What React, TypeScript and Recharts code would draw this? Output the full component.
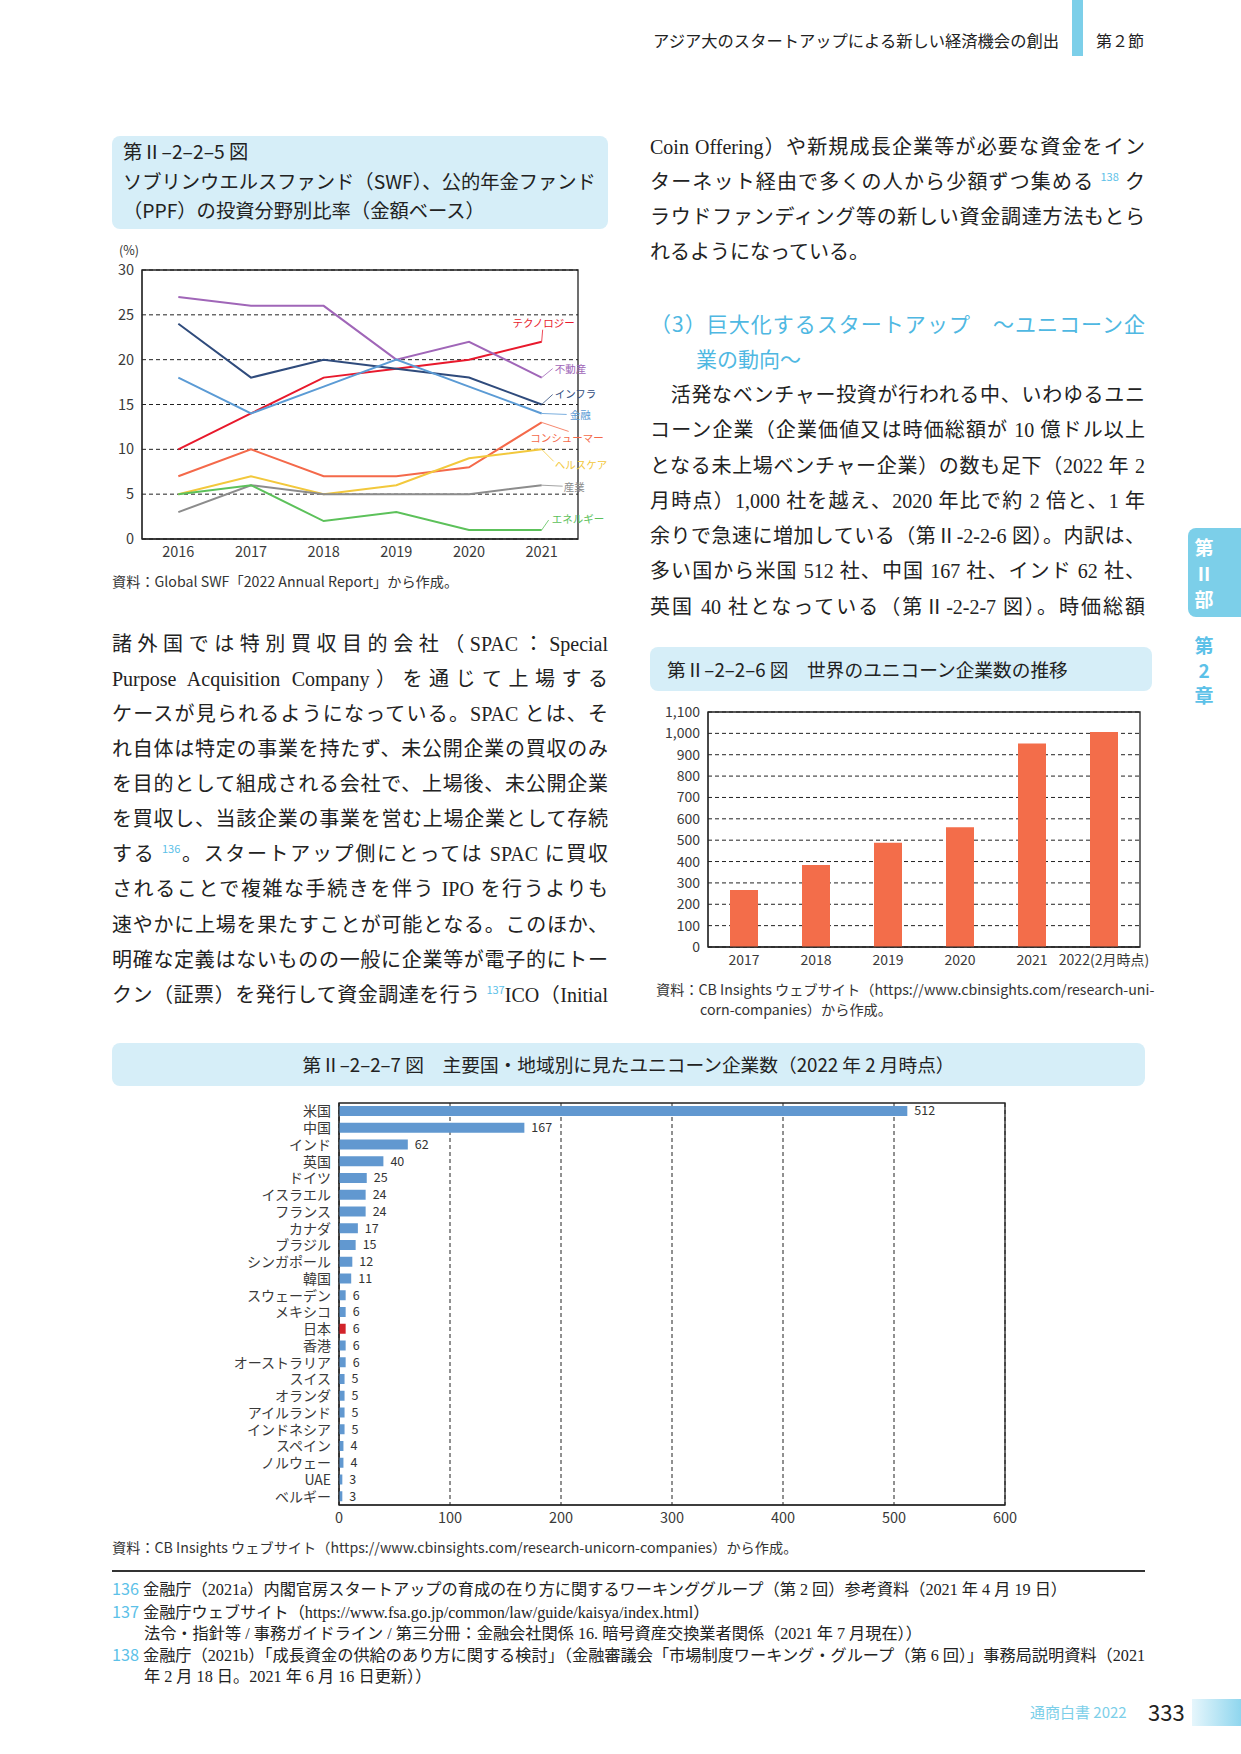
import React from "react";
import {
  LineChart,
  Line,
  BarChart,
  Bar,
  XAxis,
  YAxis,
  CartesianGrid,
  ReferenceArea,
  LabelList,
  Cell,
} from "recharts";

// --- Fig 2-2-5: SWF / PPF investment share by sector (%)
const swfYears = ["2016", "2017", "2018", "2019", "2020", "2021"];
const technology = [10, 14, 18, 19, 20, 22];
const realEstate = [27, 26, 26, 20, 22, 18];
const infra = [24, 18, 20, 19, 18, 15];
const finance = [18, 14, 17, 20, 17, 14];
const consumer = [7, 10, 7, 7, 8, 13];
const healthcare = [5, 7, 5, 6, 9, 10];
const industry = [3, 6, 5, 5, 5, 6];
const energy = [5, 6, 2, 3, 1, 1];
const swfTicks = [0, 5, 10, 15, 20, 25, 30];

// --- Fig 2-2-6: number of unicorns worldwide
const unicornYears = ["2017", "2018", "2019", "2020", "2021", "2022(2月時点)"];
const unicornCount = [267, 384, 488, 560, 953, 1006];
const unicornTicks = [0, 100, 200, 300, 400, 500, 600, 700, 800, 900, 1000, 1100];

// --- Fig 2-2-7: unicorns by country (Feb 2022)
const countries = [
  "米国", "中国", "インド", "英国", "ドイツ", "イスラエル", "フランス", "カナダ",
  "ブラジル", "シンガポール", "韓国", "スウェーデン", "メキシコ", "日本", "香港",
  "オーストラリア", "スイス", "オランダ", "アイルランド", "インドネシア", "スペイン",
  "ノルウェー", "UAE", "ベルギー",
];
const countryCount = [512, 167, 62, 40, 25, 24, 24, 17, 15, 12, 11, 6, 6, 6, 6, 6, 5, 5, 5, 5, 4, 4, 3, 3];
const countryTicks = [0, 100, 200, 300, 400, 500, 600];

const SANS = '"Noto Sans CJK JP", "Noto Sans", sans-serif';
const SERIF = '"Liberation Serif", "Noto Sans CJK JP", serif';
const ACCENT = "#5cc1e8";
const BOX = "#d6eef8";

const series = [
  { key: "tech", name: "テクノロジー", color: "#e8192c", values: technology },
  { key: "re", name: "不動産", color: "#a066b8", values: realEstate },
  { key: "infra", name: "インフラ", color: "#2f4b7c", values: infra },
  { key: "fin", name: "金融", color: "#5b9bd5", values: finance },
  { key: "cons", name: "コンシューマー", color: "#f4694a", values: consumer },
  { key: "hc", name: "ヘルスケア", color: "#f2c83c", values: healthcare },
  { key: "ind", name: "産業", color: "#8c8c8c", values: industry },
  { key: "en", name: "エネルギー", color: "#5cc15a", values: energy },
];

// leader line end (lx, ly) and text anchor point (tx, ty), relative to last point
const labelPos: Record<string, any> = {
  tech: { lx: 1, ly: -12, tx: 2, ty: -19, anchor: "middle" },
  re: { lx: 11, ly: -9, tx: 13, ty: -9, anchor: "start" },
  infra: { lx: 11, ly: -10, tx: 13, ty: -11, anchor: "start" },
  fin: { lx: 25, ly: 1, tx: 28, ty: 1, anchor: "start" },
  cons: { lx: 27, ly: 9, tx: 62, ty: 15, anchor: "end" },
  hc: { lx: 12, ly: 12, tx: 13, ty: 15, anchor: "start" },
  ind: { lx: 21, ly: 1, tx: 22, ty: 1, anchor: "start" },
  en: { lx: 7, ly: -10, tx: 10, ty: -12, anchor: "start" },
};

const swfData = swfYears.map((year, i) => {
  const row: Record<string, any> = { year };
  series.forEach((s) => (row[s.key] = s.values[i]));
  return row;
});
const unicornData = unicornYears.map((year, i) => ({ year, count: unicornCount[i] }));
const countryData = countries.map((name, i) => ({ name, count: countryCount[i] }));

function endLabel(s: (typeof series)[number]) {
  const p = labelPos[s.key];
  return (props: any) => {
    const { x, y, index } = props;
    if (index !== swfYears.length - 1) return null;
    return (
      <g>
        <line x1={x} y1={y} x2={x + p.lx} y2={y + p.ly} stroke={s.color} strokeWidth={0.8} />
        <text
          x={x + p.tx}
          y={y + p.ty}
          textAnchor={p.anchor}
          dominantBaseline="central"
          fontSize={10.5}
          fill={s.color}
        >
          {s.name}
        </text>
      </g>
    );
  };
}

const abs = (left: number, top: number, extra: React.CSSProperties = {}): React.CSSProperties => ({
  position: "absolute",
  left,
  top,
  ...extra,
});

function JLine({ x, y, w, text, size = 20, last = false, font = SERIF, color = "#222" }: any) {
  return (
    <div
      style={abs(x, y - 15, {
        width: w,
        height: 30,
        lineHeight: "30px",
        fontSize: size,
        fontFamily: font,
        color,
        textAlign: last ? "left" : "justify",
        textAlignLast: last ? "left" : "justify",
      } as React.CSSProperties)}
    >
      {text}
    </div>
  );
}

// superscript footnote marker that does not grow the line box
const Sup = ({ n }: { n: string }) => (
  <span
    style={{
      fontSize: 11,
      lineHeight: "10px",
      color: ACCENT,
      position: "relative",
      top: -8,
      fontFamily: SANS,
    }}
  >
    {n}
  </span>
);

const leftLines: React.ReactNode[] = [
  "諸外国では特別買収目的会社（SPAC：Special",
  "Purpose Acquisition Company）を通じて上場する",
  "ケースが見られるようになっている。SPAC とは、そ",
  "れ自体は特定の事業を持たず、未公開企業の買収のみ",
  "を目的として組成される会社で、上場後、未公開企業",
  "を買収し、当該企業の事業を営む上場企業として存続",
  <>する <Sup n="136" />。スタートアップ側にとっては SPAC に買収</>,
  "されることで複雑な手続きを伴う IPO を行うよりも",
  "速やかに上場を果たすことが可能となる。このほか、",
  "明確な定義はないものの一般に企業等が電子的にトー",
  <>クン（証票）を発行して資金調達を行う <Sup n="137" />ICO（Initial</>,
];
const rightTop: React.ReactNode[] = [
  "Coin Offering）や新規成長企業等が必要な資金をイン",
  <>ターネット経由で多くの人から少額ずつ集める <Sup n="138" /> ク</>,
  "ラウドファンディング等の新しい資金調達方法もとら",
  "れるようになっている。",
];
const rightPara: string[] = [
  "　活発なベンチャー投資が行われる中、いわゆるユニ",
  "コーン企業（企業価値又は時価総額が 10 億ドル以上",
  "となる未上場ベンチャー企業）の数も足下（2022 年 2",
  "月時点）1,000 社を越え、2020 年比で約 2 倍と、1 年",
  "余りで急速に増加している（第Ⅱ-2-2-6 図）。内訳は、",
  "多い国から米国 512 社、中国 167 社、インド 62 社、",
  "英国 40 社となっている（第Ⅱ-2-2-7 図）。時価総額",
];
const leftY = [644, 679, 714, 749, 784, 819, 854, 889, 925, 960, 995];
const rightTopY = [147, 182, 217, 252];
const rightParaY = [395, 430, 466, 501, 536, 571, 607];

const numTick = { fontSize: 14.5, fill: "#3a3a3a" };
const catTick = { fontSize: 14, fill: "#3a3a3a" };
const captionStyle = { fontSize: 14.2, color: "#333", lineHeight: "20px" };

export default function App() {
  return (
    <div
      style={{
        position: "absolute",
        left: 0,
        top: 0,
        width: 1241,
        height: 1754,
        background: "#fff",
        fontFamily: SANS,
        color: "#222",
        overflow: "hidden",
      }}
    >
      {/* header */}
      <div style={abs(560, 29, { width: 499, textAlign: "right", fontSize: 16.3, lineHeight: "22px" })}>
        アジア大のスタートアップによる新しい経済機会の創出
      </div>
      <div style={abs(1072, 0, { width: 11, height: 56, background: "#7ccfe9" })} />
      <div style={abs(1096, 29, { fontSize: 16, lineHeight: "22px" })}>第２節</div>

      {/* side tab */}
      <div
        style={abs(1188, 528, {
          width: 60,
          height: 89,
          background: "#7ccfe9",
          borderRadius: "8px 0 0 8px",
        })}
      />
      {["第", "Ⅱ", "部"].map((c, i) => (
        <div key={c} style={abs(1190, 535 + i * 26, { width: 28, textAlign: "center", color: "#fff", fontSize: 19, lineHeight: "24px", fontWeight: 700 })}>
          {c}
        </div>
      ))}
      {["第", "2", "章"].map((c, i) => (
        <div key={c} style={abs(1190, 633 + i * 25, { width: 28, textAlign: "center", color: "#5cc1e8", fontSize: 19, lineHeight: "24px", fontWeight: 700 })}>
          {c}
        </div>
      ))}

      {/* Fig 2-2-5 title */}
      <div style={abs(112, 136, { width: 496, height: 93, background: BOX, borderRadius: 8 })} />
      <div style={abs(123, 137, { fontSize: 19.3, lineHeight: "29.5px", color: "#222" })}>
        第Ⅱ–2–2–5 図
        <br />
        ソブリンウエルスファンド（SWF）、公的年金ファンド
        <br />
        （PPF）の投資分野別比率（金額ベース）
      </div>
      <div style={abs(119, 242, { fontSize: 12.5, lineHeight: "16px", color: "#333" })}>(%)</div>

      <div style={abs(100, 230, { width: 520, height: 340 })}>
        <LineChart width={520} height={340} data={swfData} margin={{ top: 40, right: 42, bottom: 0, left: 0 }}>
          <CartesianGrid vertical={false} stroke="#222" strokeDasharray="4 3" />
          <XAxis dataKey="year" scale="band" tickLine={false} height={31} axisLine={{ stroke: "#222" }} tick={numTick} interval={0} />
          <YAxis width={42} domain={[0, 30]} ticks={swfTicks} interval={0} tickLine={false} axisLine={{ stroke: "#222" }} tick={numTick} />
          <ReferenceArea y1={0} y2={30} fill="none" stroke="#222" strokeWidth={1.3} ifOverflow="visible" />
          {series.map((s) => (
            <Line
              key={s.key}
              type="linear"
              dataKey={s.key}
              stroke={s.color}
              strokeWidth={2}
              dot={false}
              isAnimationActive={false}
            >
              <LabelList dataKey={s.key} content={endLabel(s)} />
            </Line>
          ))}
        </LineChart>
      </div>
      <div style={abs(112, 571, captionStyle)}>
        資料：Global SWF「2022 Annual Report」から作成。
      </div>

      {/* left body text */}
      {leftLines.map((t, i) => (
        <JLine key={i} x={112} y={leftY[i]} w={496} text={t} />
      ))}

      {/* right body text */}
      {rightTop.map((t, i) => (
        <JLine key={i} x={650} y={rightTopY[i]} w={495} text={t} last={i === rightTop.length - 1} />
      ))}
      <JLine x={650} y={323} w={495} size={21} font={SANS} color="#4fb8e2" text="（3）巨大化するスタートアップ　～ユニコーン企" />
      <JLine x={696} y={358} w={300} size={21} font={SANS} color="#4fb8e2" text="業の動向～" last />
      {rightPara.map((t, i) => (
        <JLine key={i} x={650} y={rightParaY[i]} w={495} text={t} />
      ))}

      {/* Fig 2-2-6 */}
      <div style={abs(650, 647, { width: 502, height: 44, background: BOX, borderRadius: 8 })} />
      <div style={abs(667, 656, { fontSize: 18.7, lineHeight: "25px" })}>第Ⅱ–2–2–6 図　世界のユニコーン企業数の推移</div>
      <div style={abs(650, 700, { width: 510, height: 280 })}>
        <BarChart width={510} height={280} data={unicornData} margin={{ top: 12, right: 20, bottom: 0, left: 0 }}>
          <CartesianGrid vertical={false} stroke="#222" strokeDasharray="4 3" />
          <XAxis dataKey="year" tickLine={false} height={33} axisLine={{ stroke: "#222" }} tick={{ fontSize: 14, fill: "#3a3a3a" }} interval={0} />
          <YAxis
            width={58}
            domain={[0, 1100]}
            ticks={unicornTicks}
            interval={0}
            tickLine={false}
            axisLine={{ stroke: "#222" }}
            tick={{ fontSize: 14, fill: "#3a3a3a" }}
            tickFormatter={(v: number) => v.toLocaleString("en-US")}
          />
          <ReferenceArea y1={0} y2={1100} fill="none" stroke="#222" strokeWidth={1.3} ifOverflow="visible" />
          <Bar dataKey="count" fill="#f36d4a" barSize={28} isAnimationActive={false} />
        </BarChart>
      </div>
      <div style={abs(656, 979, { ...captionStyle, width: 520, whiteSpace: "nowrap" })}>
        資料：CB Insights ウェブサイト（https://www.cbinsights.com/research-uni-
        <br />
        <span style={{ paddingLeft: 44 }}>corn-companies）から作成。</span>
      </div>

      {/* Fig 2-2-7 */}
      <div style={abs(112, 1043, { width: 1033, height: 43, background: BOX, borderRadius: 8 })} />
      <div style={abs(112, 1051, { width: 1033, textAlign: "center", fontSize: 18.7, lineHeight: "25px" })}>
        第Ⅱ–2–2–7 図　主要国・地域別に見たユニコーン企業数（2022 年 2 月時点）
      </div>
      <div style={abs(200, 1095, { width: 830, height: 440 })}>
        <BarChart
          width={830}
          height={440}
          data={countryData}
          layout="vertical"
          margin={{ top: 8, right: 25, bottom: 0, left: 0 }}
        >
          <CartesianGrid horizontal={false} stroke="#222" strokeDasharray="4 3" />
          <XAxis
            type="number"
            domain={[0, 600]}
            ticks={countryTicks}
            interval={0}
            tickLine={false}
            height={30}
            axisLine={{ stroke: "#222" }}
            tick={numTick}
          />
          <YAxis
            type="category"
            dataKey="name"
            width={139}
            interval={0}
            tickLine={false}
            axisLine={{ stroke: "#222" }}
            tick={catTick}
          />
          <ReferenceArea x1={0} x2={600} fill="none" stroke="#222" strokeWidth={1.3} ifOverflow="visible" />
          <Bar dataKey="count" barSize={10} isAnimationActive={false}>
            {countryData.map((d) => (
              <Cell key={d.name} fill={d.name === "日本" ? "#d2232a" : "#6198d0"} />
            ))}
            <LabelList dataKey="count" position="right" offset={7} fontSize={12.5} fill="#333" />
          </Bar>
        </BarChart>
      </div>
      <div style={abs(112, 1537, captionStyle)}>
        資料：CB Insights ウェブサイト（https://www.cbinsights.com/research-unicorn-companies）から作成。
      </div>

      {/* footnotes */}
      <div style={abs(112, 1570, { width: 1033, height: 1.5, background: "#333" })} />
      <div style={abs(112, 1578, { width: 1040, fontSize: 16.2, lineHeight: "20.8px", fontFamily: SERIF, color: "#222", whiteSpace: "nowrap" })}>
        <div>
          <span style={{ color: ACCENT, fontFamily: SANS }}>136</span> 金融庁（2021a）内閣官房スタートアップの育成の在り方に関するワーキンググループ（第 2 回）参考資料（2021 年 4 月 19 日）
        </div>
        <div>
          <span style={{ color: ACCENT, fontFamily: SANS }}>137</span> 金融庁ウェブサイト（https://www.fsa.go.jp/common/law/guide/kaisya/index.html）
        </div>
        <div style={{ paddingLeft: 32 }}>
          法令・指針等 / 事務ガイドライン / 第三分冊：金融会社関係 16. 暗号資産交換業者関係（2021 年 7 月現在））
        </div>
        <div>
          <span style={{ color: ACCENT, fontFamily: SANS }}>138</span> 金融庁（2021b）「成長資金の供給のあり方に関する検討」（金融審議会「市場制度ワーキング・グループ（第 6 回）」事務局説明資料（2021
        </div>
        <div style={{ paddingLeft: 32 }}>年 2 月 18 日。2021 年 6 月 16 日更新））</div>
      </div>

      {/* footer */}
      <div style={abs(1030, 1701, { fontSize: 15, color: "#7ccfe9", lineHeight: "22px" })}>通商白書 2022</div>
      <div style={abs(1148, 1696, { fontSize: 22, color: "#222", lineHeight: "30px" })}>333</div>
      <div
        style={abs(1192, 1699, {
          width: 49,
          height: 27,
          background: "linear-gradient(90deg, #e6f6fc 0%, #8fd6ee 100%)",
        })}
      />
    </div>
  );
}
